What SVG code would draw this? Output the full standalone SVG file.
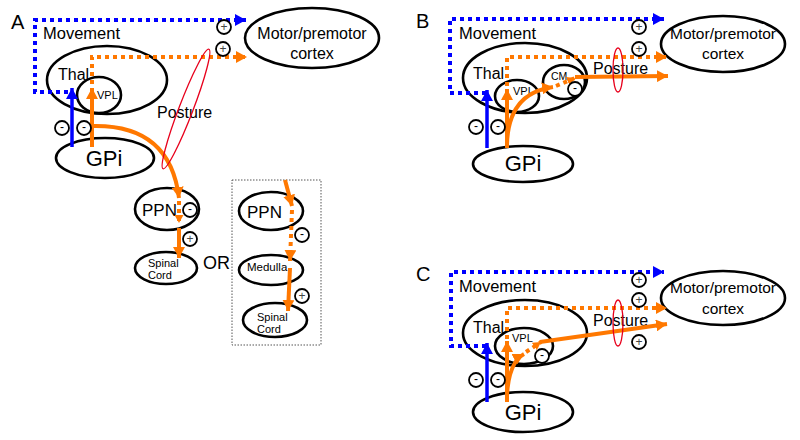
<svg xmlns="http://www.w3.org/2000/svg" width="800" height="440" viewBox="0 0 800 440">
<defs>
<style>
.n{fill:#fff;stroke:#000;stroke-width:2.6}
.t{font-family:"Liberation Sans",Arial,sans-serif;fill:#000}
.s{fill:#fff;stroke:#000;stroke-width:1.8}
.sg{font-family:"Liberation Sans",Arial,sans-serif;font-size:12px;text-anchor:middle}
.bd{fill:none;stroke:#0000ff;stroke-width:4;stroke-dasharray:4 4}
.bs{fill:none;stroke:#0000ff;stroke-width:3.5}
.od{fill:none;stroke:#ff7800;stroke-width:4;stroke-dasharray:4 4}
.os{fill:none;stroke:#ff7800;stroke-width:4}
.rp{fill:none;stroke:#e8001c;stroke-width:1.3}
</style>
<marker id="ab" markerUnits="userSpaceOnUse" markerWidth="12" markerHeight="12" refX="11" refY="6" orient="auto"><path d="M0,0 L11,6 L0,12 z" fill="#0000ff"/></marker>
<marker id="ao" markerUnits="userSpaceOnUse" markerWidth="12" markerHeight="12" refX="11" refY="6" orient="auto"><path d="M0,0 L11,6 L0,12 z" fill="#ff7800"/></marker>
<marker id="aos" markerUnits="userSpaceOnUse" markerWidth="10" markerHeight="10" refX="8" refY="4.5" orient="auto"><path d="M0,0 L8,4.5 L0,9 z" fill="#ff7800"/></marker>
</defs>
<rect width="800" height="440" fill="#fff"/>

<!-- Panel labels -->
<text class="t" x="11" y="29" font-size="20">A</text>
<text class="t" x="416" y="28" font-size="20">B</text>
<text class="t" x="416" y="281" font-size="20">C</text>

<!-- Panel A nodes -->
<g id="A-motor"><ellipse class="n" cx="312" cy="38" rx="67" ry="30"/><text class="t" x="312" y="39" font-size="16" text-anchor="middle">Motor/premotor</text><text class="t" x="312" y="59" font-size="16" text-anchor="middle">cortex</text></g>
<g id="A-thal"><ellipse class="n" cx="107" cy="80" rx="60" ry="34"/><text class="t" x="58" y="80" font-size="16">Thal</text></g>
<g id="A-vpl"><ellipse class="n" cx="99" cy="95" rx="22" ry="18"/><text class="t" x="97" y="99" font-size="11">VPL</text></g>
<g id="A-gpi"><ellipse class="n" cx="105" cy="158" rx="49" ry="20"/><text class="t" x="104" y="166" font-size="22" text-anchor="middle">GPi</text></g>
<g id="A-ppn"><ellipse class="n" cx="167" cy="209" rx="32" ry="21"/><text class="t" x="142" y="216" font-size="17">PPN</text></g>
<g id="A-spinal"><ellipse class="n" cx="166" cy="268" rx="31" ry="16"/><text class="t" x="148" y="267" font-size="11">Spinal</text><text class="t" x="148" y="279" font-size="11">Cord</text></g>
<g id="A-or"><text class="t" x="203" y="269" font-size="18">OR</text></g>
<g id="A-box"><rect x="232" y="180" width="89" height="165" fill="none" stroke="#555" stroke-width="1" stroke-dasharray="1.5 1.5"/></g>
<g id="A-ppn2"><ellipse class="n" cx="271" cy="211" rx="32" ry="19"/><text class="t" x="247" y="218" font-size="17">PPN</text></g>
<g id="A-medulla"><ellipse class="n" cx="271" cy="270" rx="32" ry="15"/><text class="t" x="247" y="271" font-size="11.5">Medulla</text></g>
<g id="A-spinal2"><ellipse class="n" cx="275" cy="320" rx="32" ry="17"/><text class="t" x="257" y="321" font-size="11">Spinal</text><text class="t" x="257" y="333" font-size="11">Cord</text></g>

<!-- Panel B nodes -->
<g id="B-motor"><ellipse class="n" cx="723" cy="44" rx="62" ry="28"/><text class="t" x="723" y="39" font-size="15.5" text-anchor="middle">Motor/premotor</text><text class="t" x="723" y="59" font-size="15.5" text-anchor="middle">cortex</text></g>
<g id="B-thal"><ellipse class="n" cx="525" cy="78" rx="62" ry="35"/><text class="t" x="473" y="79" font-size="16">Thal</text></g>
<g id="B-vpl"><ellipse class="n" cx="517" cy="96" rx="22" ry="16"/><text class="t" x="513" y="95" font-size="11">VPL</text></g>
<g id="B-cm"><ellipse class="n" cx="564" cy="82" rx="21" ry="17"/><text class="t" x="551" y="80" font-size="10.5">CM</text></g>
<g id="B-gpi"><ellipse class="n" cx="523" cy="164" rx="50" ry="18"/><text class="t" x="523" y="171" font-size="22" text-anchor="middle">GPi</text></g>

<!-- Panel C nodes -->
<g id="C-motor"><ellipse class="n" cx="723" cy="298" rx="62" ry="27"/><text class="t" x="723" y="293" font-size="15.5" text-anchor="middle">Motor/premotor</text><text class="t" x="723" y="314" font-size="15.5" text-anchor="middle">cortex</text></g>
<g id="C-thal"><ellipse class="n" cx="525" cy="333" rx="62" ry="33"/><text class="t" x="473" y="333" font-size="16">Thal</text></g>
<g id="C-vpl"><ellipse class="n" cx="524" cy="346" rx="29" ry="18"/><text class="t" x="512" y="342" font-size="11">VPL</text></g>
<g id="C-gpi"><ellipse class="n" cx="523" cy="412" rx="50" ry="20"/><text class="t" x="523" y="420" font-size="22" text-anchor="middle">GPi</text></g>

<!-- Labels -->
<text class="t" x="43" y="39" font-size="16.5">Movement</text>
<text class="t" x="157" y="118" font-size="16">Posture</text>
<text class="t" x="459" y="39" font-size="16.5">Movement</text>
<text class="t" x="593" y="74" font-size="16">Posture</text>
<text class="t" x="459" y="292" font-size="16.5">Movement</text>
<text class="t" x="593" y="326" font-size="16">Posture</text>

<!-- Connectors -->
<g id="connectors">
<!-- A -->
<path class="bd" d="M68,92 H35 V20 H246" marker-end="url(#ab)"/>
<path class="bs" d="M72,147 V88" marker-end="url(#ab)"/>
<path class="od" d="M92,84 V57 H247" marker-end="url(#ao)"/>
<path class="os" d="M92,147 V88" marker-end="url(#ao)"/>
<path class="os" d="M92,126 Q170,124 179,198" marker-end="url(#ao)"/>
<path class="od" d="M179,201 V223" marker-end="url(#aos)"/>
<path class="os" d="M179,228 V258" marker-end="url(#ao)"/>
<path class="os" d="M285,180 L292,206" marker-end="url(#ao)"/>
<path class="od" d="M292,210 L290,261" marker-end="url(#ao)"/>
<path class="os" d="M290,268 L288,311" marker-end="url(#ao)"/>
<!-- B -->
<path class="bd" d="M486,93 H450 V19 H664" marker-end="url(#ab)"/>
<path class="bs" d="M487,148 V90" marker-end="url(#ab)"/>
<path class="od" d="M507,86 V57 H667" marker-end="url(#ao)"/>
<path class="os" d="M507,148 V89" marker-end="url(#ao)"/>
<path class="os" d="M507,145 Q508,93 553,87" marker-end="url(#ao)"/>
<path class="od" d="M556,86 L575,78" marker-end="url(#aos)"/>
<path class="os" d="M575,77 L668,76" marker-end="url(#ao)"/>
<!-- C -->
<path class="bd" d="M486,346 H451 V272 H664" marker-end="url(#ab)"/>
<path class="bs" d="M487,402 V343" marker-end="url(#ab)"/>
<path class="od" d="M507,339 V308 H667" marker-end="url(#ao)"/>
<path class="os" d="M507,402 V341" marker-end="url(#ao)"/>
<path class="os" d="M507,395 Q509,362 524,354" marker-end="url(#ao)"/>
<path class="od" d="M526,352 L541,342" marker-end="url(#aos)"/>
<path class="os" d="M540,342 L667,324" marker-end="url(#ao)"/>
</g>

<!-- Posture ellipses -->
<ellipse class="rp" cx="186" cy="109" rx="64" ry="7" transform="rotate(-69 186 109)"/>
<ellipse class="rp" cx="618" cy="70" rx="5" ry="22"/>
<ellipse class="rp" cx="618" cy="323" rx="5" ry="23"/>

<!-- Signs -->
<g id="signs">
<g><circle class="s" cx="62" cy="128" r="7"/><text class="sg" x="62" y="131">-</text></g>
<g><circle class="s" cx="84" cy="128" r="7"/><text class="sg" x="84" y="131">-</text></g>
<g><circle class="s" cx="224" cy="27" r="7"/><text class="sg" x="224" y="31" fill="#444">+</text></g>
<g><circle class="s" cx="223" cy="49" r="7"/><text class="sg" x="223" y="53" fill="#444">+</text></g>
<g><circle class="s" cx="190" cy="210" r="7"/><text class="sg" x="190" y="213">-</text></g>
<g><circle class="s" cx="190" cy="239" r="7"/><text class="sg" x="190" y="243" fill="#444">+</text></g>
<g><circle class="s" cx="302" cy="235" r="7"/><text class="sg" x="302" y="238">-</text></g>
<g><circle class="s" cx="302" cy="296" r="7"/><text class="sg" x="302" y="300" fill="#444">+</text></g>
<g><circle class="s" cx="476" cy="127" r="7"/><text class="sg" x="476" y="130">-</text></g>
<g><circle class="s" cx="498" cy="127" r="7"/><text class="sg" x="498" y="130">-</text></g>
<g><circle class="s" cx="575" cy="89" r="7"/><text class="sg" x="575" y="92">-</text></g>
<g><circle class="s" cx="639" cy="27" r="7"/><text class="sg" x="639" y="31" fill="#444">+</text></g>
<g><circle class="s" cx="639" cy="49" r="7"/><text class="sg" x="639" y="53" fill="#444">+</text></g>
<g><circle class="s" cx="476" cy="380" r="7"/><text class="sg" x="476" y="383">-</text></g>
<g><circle class="s" cx="498" cy="380" r="7"/><text class="sg" x="498" y="383">-</text></g>
<g><circle class="s" cx="542" cy="356" r="7"/><text class="sg" x="542" y="359">-</text></g>
<g><circle class="s" cx="639" cy="280" r="7"/><text class="sg" x="639" y="284" fill="#444">+</text></g>
<g><circle class="s" cx="639" cy="300" r="7"/><text class="sg" x="639" y="304" fill="#444">+</text></g>
<g><circle class="s" cx="639" cy="342" r="7"/><text class="sg" x="639" y="346" fill="#444">+</text></g>
</g>
</svg>
